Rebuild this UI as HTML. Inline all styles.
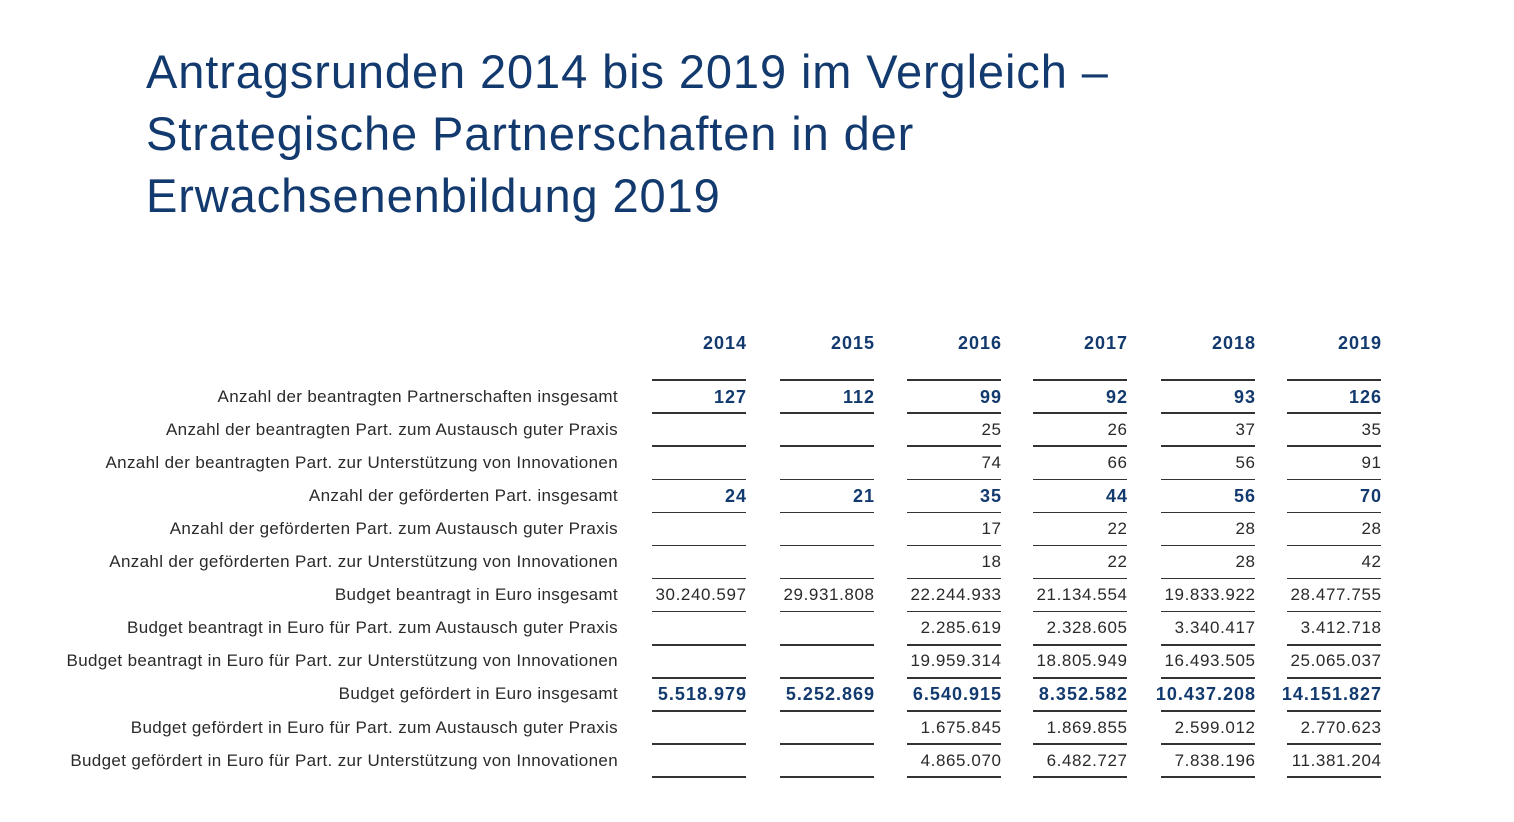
<!DOCTYPE html>
<html><head><meta charset="utf-8">
<style>
body{margin:0;width:1514px;height:822px;background:#fff;position:relative;overflow:hidden;font-family:"Liberation Sans",sans-serif;}
.t{position:absolute;left:146px;font-size:47px;letter-spacing:0.9px;color:#133a6e;white-space:nowrap;line-height:1;}
.lab{position:absolute;right:896px;font-size:17px;letter-spacing:0.35px;color:#2a2a2a;white-space:nowrap;line-height:20px;}
.c{position:absolute;font-size:17px;letter-spacing:0.6px;color:#2a2a2a;white-space:nowrap;text-align:right;width:130px;line-height:20px;}
.b{font-weight:bold;color:#133a6e;font-size:18px;letter-spacing:1px;}
.ln{position:absolute;height:1.6px;background:#333;width:94px;}
</style></head><body>
<div class="t" style="top:48px">Antragsrunden 2014 bis 2019 im Vergleich –</div>
<div class="t" style="top:110px">Strategische Partnerschaften in der</div>
<div class="t" style="top:172px">Erwachsenenbildung 2019</div>
<div id="tbl"></div>
<script>
const years=["2014","2015","2016","2017","2018","2019"];
const labels=["Anzahl der beantragten Partnerschaften insgesamt","Anzahl der beantragten Part. zum Austausch guter Praxis","Anzahl der beantragten Part. zur Unterstützung von Innovationen","Anzahl der geförderten Part. insgesamt","Anzahl der geförderten Part. zum Austausch guter Praxis","Anzahl der geförderten Part. zur Unterstützung von Innovationen","Budget beantragt in Euro insgesamt","Budget beantragt in Euro für Part. zum Austausch guter Praxis","Budget beantragt in Euro für Part. zur Unterstützung von Innovationen","Budget gefördert in Euro insgesamt","Budget gefördert in Euro für Part. zum Austausch guter Praxis","Budget gefördert in Euro für Part. zur Unterstützung von Innovationen"];
const bold=[true,false,false,true,false,false,false,false,false,true,false,false];
const values=[
["127","112","99","92","93","126"],
["","","25","26","37","35"],
["","","74","66","56","91"],
["24","21","35","44","56","70"],
["","","17","22","28","28"],
["","","18","22","28","42"],
["30.240.597","29.931.808","22.244.933","21.134.554","19.833.922","28.477.755"],
["","","2.285.619","2.328.605","3.340.417","3.412.718"],
["","","19.959.314","18.805.949","16.493.505","25.065.037"],
["5.518.979","5.252.869","6.540.915","8.352.582","10.437.208","14.151.827"],
["","","1.675.845","1.869.855","2.599.012","2.770.623"],
["","","4.865.070","6.482.727","7.838.196","11.381.204"]];
const colRight=[746,874,1001,1127,1255,1381];
const top0=380,rowH=33.1;
const tbl=document.getElementById('tbl');
function mk(cls,txt,x,y){const d=document.createElement('div');d.className=cls;d.textContent=txt;d.style.left=x+'px';d.style.top=y+'px';tbl.appendChild(d);return d;}
years.forEach((yr,j)=>{
  const d=mk('c b',yr,colRight[j]-130+1,333);
  
  
  const l=mk('ln','',colRight[j]-94,top0-0.8);
  
  
});
labels.forEach((lab,i)=>{
  const y=top0+i*rowH+6.5;
  const d=document.createElement('div');d.className='lab';d.textContent=lab;d.style.top=y+'px';tbl.appendChild(d);
  
  
  values[i].forEach((v,j)=>{
    const c=mk('c'+(bold[i]?' b':''),v,colRight[j]-130+(bold[i]?1:0.6),y);
    
    
    const l=mk('ln','',colRight[j]-94,top0+(i+1)*rowH-0.8);
    
    
  });
});
</script>
</body></html>
